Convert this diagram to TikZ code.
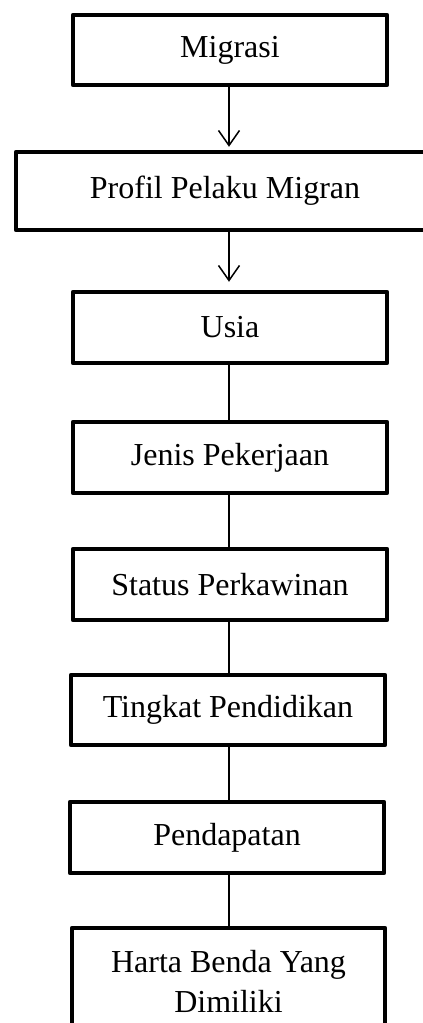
\documentclass[tikz,border=0pt]{standalone}
\usepackage{fontspec}
\setmainfont{Liberation Serif}
\usetikzlibrary{arrows.meta}
\begin{document}
\begin{tikzpicture}[x=1pt,y=-1pt,
  boxnode/.style={draw, line width=4.5pt, line join=round, minimum width=314pt, minimum height=71pt,
     inner sep=0pt, align=center, font=\fontsize{32}{40}\selectfont},
  link/.style={line width=1.5pt},
  arrowlink/.style={link, -{Straight Barb[length=15pt,width=21pt]}}]
\useasboundingbox (0,0) rectangle (423,1023);
\coordinate (c1) at (229,0);
\node[boxnode, minimum height=70pt] (migrasi) at (230,50) {Migrasi};
\node[boxnode, minimum width=418pt, minimum height=78pt] (profil) at (225,191) {Profil Pelaku Migran};
\node[boxnode] (usia) at (230,327.5) {Usia};
\node[boxnode] (jenis) at (230,457.5) {Jenis Pekerjaan};
\node[boxnode] (status) at (230,584.5) {Status Perkawinan};
\node[boxnode, minimum height=70pt] (tingkat) at (228,710) {Tingkat Pendidikan};
\node[boxnode] (pendapatan) at (227,837.5) {Pendapatan};
\node[boxnode, minimum width=313pt, minimum height=106pt] (harta) at (228.5,981) {Harta Benda Yang\\Dimiliki};
\draw[arrowlink, shorten >=3pt] (migrasi.south -| c1) -- (profil.north -| c1);
\draw[arrowlink, shorten >=8pt] (profil.south -| c1) -- (usia.north -| c1);
\draw[link] (usia.south -| c1) -- (jenis.north -| c1);
\draw[link] (jenis.south -| c1) -- (status.north -| c1);
\draw[link] (status.south -| c1) -- (tingkat.north -| c1);
\draw[link] (tingkat.south -| c1) -- (pendapatan.north -| c1);
\draw[link] (pendapatan.south -| c1) -- (harta.north -| c1);
\end{tikzpicture}
\end{document}
